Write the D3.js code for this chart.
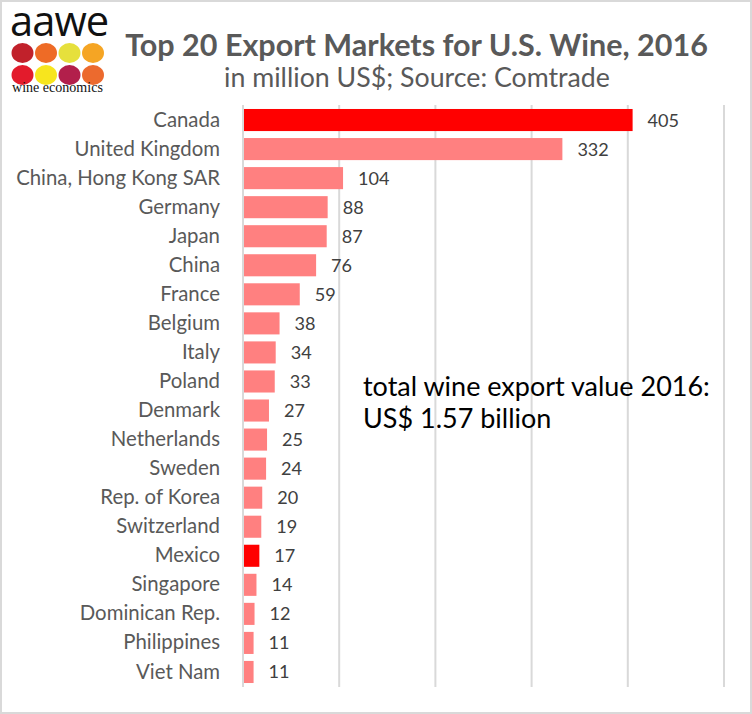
<!DOCTYPE html>
<html><head><meta charset="utf-8">
<script src="https://cdn.jsdelivr.net/npm/d3@7/dist/d3.min.js"></script>
<style>body{margin:0;background:#fff}svg{display:block}</style>
</head><body>
<svg id="chart" width="752" height="714"></svg>
<script>
const countries = ["Canada","United Kingdom","China, Hong Kong SAR","Germany","Japan","China","France","Belgium","Italy","Poland","Denmark","Netherlands","Sweden","Rep. of Korea","Switzerland","Mexico","Singapore","Dominican Rep.","Philippines","Viet Nam"];
const values = [405,332,104,88,87,76,59,38,34,33,27,25,24,20,19,17,14,12,11,11];
const highlighted = ["Canada","Mexico"];
const xTicks = [0,100,200,300,400,500];
const title = "Top 20 Export Markets for U.S. Wine, 2016";
const subtitle = "in million US$; Source: Comtrade";
const note = ["total wine export value 2016:", "US$ 1.57 billion"];
const logoColors = [["#C1212B","#EE6B26","#E6E03C","#F5A524"],["#E31B2C","#F7E51E","#B21F4B","#EC6A2E"]];

const svg = d3.select("#chart");
const W = 752, H = 714;
const font = "Lato, 'Open Sans', sans-serif";

// scale a text's font size so that its rendered width equals a target width
function fitWidth(sel, target) {
  const n = sel.node();
  const fs = parseFloat(sel.attr("font-size"));
  const w = n.getComputedTextLength();
  sel.attr("font-size", (fs * target / w).toFixed(2));
  return fs * target / w;
}

svg.append("rect").attr("x",1).attr("y",1).attr("width",W-2).attr("height",H-2)
  .attr("fill","#fff").attr("stroke","#d9d9d9").attr("stroke-width",2);

const x = d3.scaleLinear().domain([0,500]).range([243,724]);
const y = d3.scaleBand().domain(countries).range([105.5,686.5]).paddingInner(0.24).paddingOuter(0.12);

// gridlines
svg.append("g").selectAll("line").data(xTicks).join("line")
  .attr("x1",d=>x(d)).attr("x2",d=>x(d)).attr("y1",105).attr("y2",687)
  .attr("stroke","#d9d9d9").attr("stroke-width",2);

// bars
svg.append("g").selectAll("rect").data(countries).join("rect")
  .attr("x",x(0)+1).attr("y",d=>y(d))
  .attr("width",(d,i)=>x(values[i])-x(0)-1).attr("height",y.bandwidth())
  .attr("fill",d=>highlighted.includes(d)?"#FF0000":"#FF8080");

// value labels
const vl = svg.append("g").selectAll("text").data(countries).join("text")
  .attr("x",(d,i)=>x(values[i])+15).attr("y",d=>y(d)+y.bandwidth()/2)
  .attr("dy","0.36em").attr("font-family",font).attr("font-size",18)
  .attr("fill","#404040").text((d,i)=>values[i]);
const vfs = fitWidth(vl.filter((d,i)=>i===1), 31.5);
vl.attr("font-size", vfs);

// category axis
const yAxis = d3.axisLeft(y).tickSize(0).tickPadding(23);
const ga = svg.append("g").attr("transform",`translate(${x(0)},0)`).call(yAxis);
ga.select(".domain").remove();
const cl = ga.selectAll("text").attr("font-family",font).attr("font-size",18).attr("fill","#595959");
const cfs = fitWidth(cl.filter(d=>d==="China, Hong Kong SAR"), 204);
cl.attr("font-size", cfs);

// title
const t1 = svg.append("text").attr("x",416.5).attr("y",56).attr("text-anchor","middle")
  .attr("font-family",font).attr("font-weight",700).attr("font-size",28)
  .attr("fill","#595959").text(title);
fitWidth(t1, 583);
const t2 = svg.append("text").attr("x",417).attr("y",87).attr("text-anchor","middle")
  .attr("font-family",font).attr("font-size",24)
  .attr("fill","#595959").text(subtitle);
fitWidth(t2, 386);

// note
const nt = svg.append("g").selectAll("text").data(note).join("text")
  .attr("x",363).attr("y",(d,i)=>396+i*32)
  .attr("font-family",font).attr("font-size",24).attr("fill","#000").text(d=>d);
const nfs = fitWidth(nt.filter((d,i)=>i===0), 347);
nt.attr("font-size", nfs);

// logo
const logo = svg.append("g");
const lt = logo.append("text").attr("x",10).attr("y",35.5).attr("font-family","'Open Sans', sans-serif")
  .attr("font-size",40).attr("letter-spacing",-1).attr("fill","#111").text("aawe");
fitWidth(lt, 98);
const lx = d3.scalePoint().domain([0,1,2,3]).range([22.5,93]);
const ly = d3.scalePoint().domain([0,1]).range([53,75]);
logoColors.forEach((row,r)=>row.forEach((c,k)=>{
  logo.append("ellipse").attr("cx",lx(k)).attr("cy",ly(r)).attr("rx",11).attr("ry",10).attr("fill",c);
}));
const we = logo.append("text").attr("x",12).attr("y",92).attr("font-family","'Liberation Serif', serif")
  .attr("font-size",14).attr("fill","#111").text("wine economics");
fitWidth(we, 91);
</script>
</body></html>
